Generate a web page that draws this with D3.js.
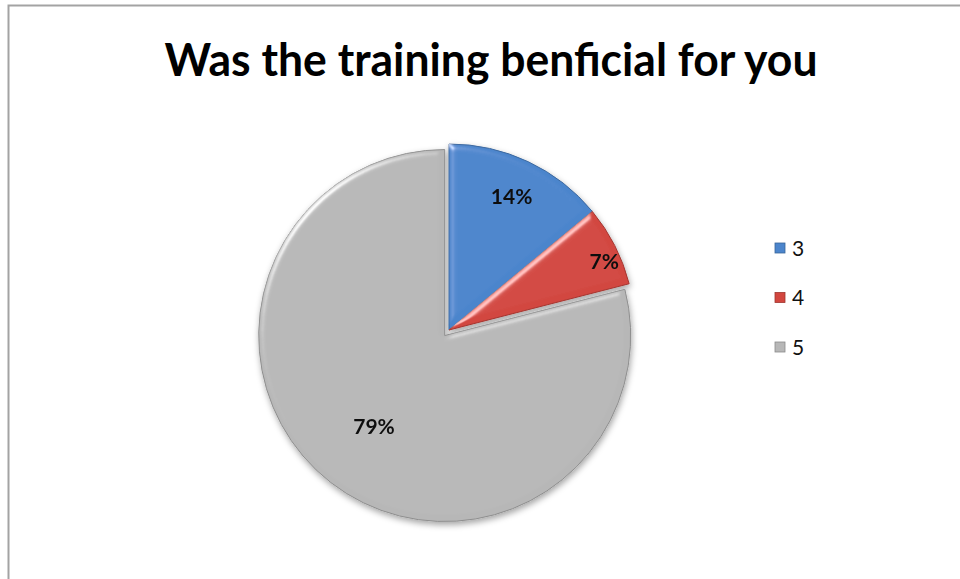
<!DOCTYPE html>
<html lang="en">
<head>
<meta charset="UTF-8">
<title>Was the training benficial for you</title>
<script src="https://d3js.org/d3.v7.min.js"></script>
<style>
  body { margin: 0; background: #fff; }
  svg text { font-family: Lato, "Open Sans", sans-serif; }
</style>
</head>
<body>
<div id="chart"></div>
<script>
var categories = ["3", "4", "5"];
var values = [14, 7, 79];
var labels = ["14%", "7%", "79%"];
var colors = ["#4c85cc", "#d2463f", "#b7b7b7"];

var W = 960, H = 579;
var cx = 449, cy = 330, r = 186;

var svg = d3.select("#chart").append("svg").attr("width", W).attr("height", H);
var defs = svg.append("defs");

// soft Excel-like bevel on each slice
var bevel = defs.append("filter").attr("id", "bevel")
    .attr("x", "-10%").attr("y", "-10%").attr("width", "120%").attr("height", "120%");
bevel.append("feGaussianBlur").attr("in", "SourceAlpha").attr("stdDeviation", 3).attr("result", "blur");
var spec = bevel.append("feSpecularLighting").attr("in", "blur")
    .attr("surfaceScale", 3).attr("specularConstant", 0.5).attr("specularExponent", 40)
    .attr("lighting-color", "#ffffff").attr("result", "spec");
spec.append("feDistantLight").attr("azimuth", 225).attr("elevation", 40);
bevel.append("feComposite").attr("in", "spec").attr("in2", "SourceAlpha").attr("operator", "in").attr("result", "specIn");
bevel.append("feComposite").attr("in", "SourceGraphic").attr("in2", "specIn")
    .attr("operator", "arithmetic").attr("k1", 0).attr("k2", 1).attr("k3", 1).attr("k4", 0);

var shadow = defs.append("filter").attr("id", "shadow")
    .attr("x", "-20%").attr("y", "-20%").attr("width", "140%").attr("height", "140%");
shadow.append("feDropShadow").attr("dx", 1).attr("dy", 3).attr("stdDeviation", 3)
    .attr("flood-color", "#000").attr("flood-opacity", 0.35);

// chart border
svg.append("path")
    .attr("d", "M8.5," + H + "V5.5H" + W)
    .attr("fill", "none").attr("stroke", "#a3a3a3").attr("stroke-width", 2);

svg.append("text")
    .attr("x", 491).attr("y", 76)
    .attr("text-anchor", "middle")
    .attr("font-size", 46).attr("font-weight", "bold")
    .attr("textLength", 653).attr("lengthAdjust", "spacingAndGlyphs")
    .text("Was the training benficial for you");

var pie = d3.pie().sort(null).value(function(d) { return d; });
var arcs = pie(values);
var arc = d3.arc().innerRadius(0).outerRadius(r);
var explode = [0, 0, 7];
var labelFrac = [0.79, 0.9, 0.62];

var g = svg.append("g").attr("transform", "translate(" + cx + "," + cy + ")")
    .attr("filter", "url(#shadow)");

var slice = g.selectAll(".slice").data(arcs).enter().append("g")
    .attr("class", "slice")
    .attr("transform", function(d, i) {
        var a = (d.startAngle + d.endAngle) / 2;
        return "translate(" + (Math.sin(a) * explode[i]) + "," + (-Math.cos(a) * explode[i]) + ")";
    });

slice.append("path")
    .attr("d", arc)
    .attr("fill", function(d, i) { return colors[i]; })
    .attr("stroke", function(d, i) { return d3.color(colors[i]).darker(0.7); })
    .attr("stroke-width", 1)
    .attr("filter", "url(#bevel)");

slice.append("text")
    .attr("transform", function(d, i) {
        var la = d3.arc().innerRadius(r * labelFrac[i]).outerRadius(r * labelFrac[i]);
        var c = la.centroid(d);
        if (i === 1) { c[0] += 6; c[1] += 8; }
        return "translate(" + c[0] + "," + c[1] + ")";
    })
    .attr("text-anchor", "middle").attr("dy", "0.35em")
    .attr("font-size", 21).attr("font-weight", "bold").attr("fill", "#111")
    .text(function(d, i) { return labels[i]; });

var legend = svg.append("g").attr("transform", "translate(775,248)");
var item = legend.selectAll(".item").data(categories).enter().append("g")
    .attr("class", "item")
    .attr("transform", function(d, i) { return "translate(0," + (i * 49.5) + ")"; });
item.append("rect")
    .attr("x", 0).attr("y", -5).attr("width", 10).attr("height", 10)
    .attr("fill", function(d, i) { return colors[i]; })
    .attr("stroke", function(d, i) { return d3.color(colors[i]).darker(0.8); })
    .attr("stroke-width", 0.8);
item.append("text")
    .attr("x", 17).attr("y", 0).attr("dy", "0.36em")
    .attr("font-size", 21).attr("fill", "#111")
    .text(function(d) { return d; });
</script>
</body>
</html>
